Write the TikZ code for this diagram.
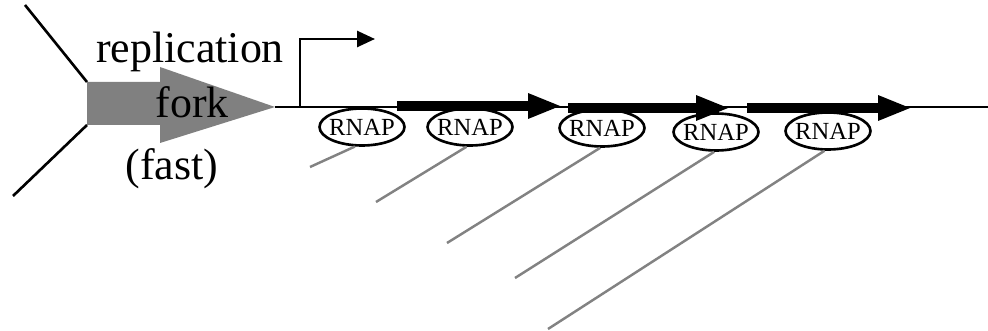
\documentclass[tikz,border=0pt]{standalone}
\usepackage{fontspec}
\setmainfont{Liberation Serif}
\usepackage{color}
\usetikzlibrary{shapes.geometric,arrows.meta}
\definecolor{forkgray}{RGB}{128,128,128}
\definecolor{tailgray}{RGB}{130,130,130}
\tikzset{
rnap/.style={draw, ellipse, line width=1.5pt, minimum width=1.7cm, minimum height=0.74cm, inner xsep=-2.5pt, inner ysep=0pt, font=\fontsize{14}{16}\selectfont},
gene/.style={line width=0.2cm, -{Triangle[length=0.68cm,width=0.46cm]}},
tail/.style={draw=tailgray, line width=1.4pt},
big/.style={font=\fontsize{25}{30}\selectfont, inner sep=0pt, anchor=base}
}

\begin{document}
\begin{tikzpicture}[x=0.02cm, y=-0.02cm]
\useasboundingbox (0,0) rectangle (988,331);

\fill[forkgray] (87,82) -- (160,82) -- (160,67) -- (275,107) -- (160,143) -- (160,125) -- (87,125) -- cycle;
\coordinate (forkin) at (87,82);
\coordinate (forkout) at (87,125);
\coordinate (armup) at (25,5);
\coordinate (armdown) at (13,196);
\draw[line width=1.5pt] (armup) -- (forkin);
\draw[line width=1.5pt] (armdown) -- (forkout);

\draw(190,63) node [big]{replication};
\draw(192,118) node [big]{fork};
\draw(172,180) node [big]{(fast)};

\coordinate (tip) at (275,107);
\coordinate (dnaend) at (988,107);
\draw[line width=1.5pt] (tip) -- (dnaend);

\coordinate (prom) at (300,107);
\coordinate (promtop) at (300,39);
\coordinate (promto) at (375,39);
\draw[line width=1.5pt, -{Triangle[length=0.36cm,width=0.32cm]}] (prom) -- (promtop) -- (promto);

\coordinate (g1a) at (397,106);
\coordinate (g1b) at (562,106);
\coordinate (g2a) at (568,108);
\coordinate (g2b) at (730,108);
\coordinate (g3a) at (747,108);
\coordinate (g3b) at (912,108);
\draw[gene] (g1a) -- (g1b);
\draw[gene] (g2a) -- (g2b);
\draw[gene] (g3a) -- (g3b);

\node[rnap] (r1) at (362,127) {RNAP};
\node[rnap] (r2) at (470,127) {RNAP};
\node[rnap] (r3) at (602,128) {RNAP};
\node[rnap] (r4) at (716,132) {RNAP};
\node[rnap] (r5) at (828,131) {RNAP};

\coordinate (m1) at (310,167);
\coordinate (m2) at (376,202);
\coordinate (m3) at (447,243);
\coordinate (m4) at (515,278);
\coordinate (m5) at (548,329);
\draw[tail] (r1.250) -- (m1);
\draw[tail] (r2.260) -- (m2);
\draw[tail] (r3.265) -- (m3);
\draw[tail] (r4.265) -- (m4);
\draw[tail] (r5.260) -- (m5);
\end{tikzpicture}
\end{document}
